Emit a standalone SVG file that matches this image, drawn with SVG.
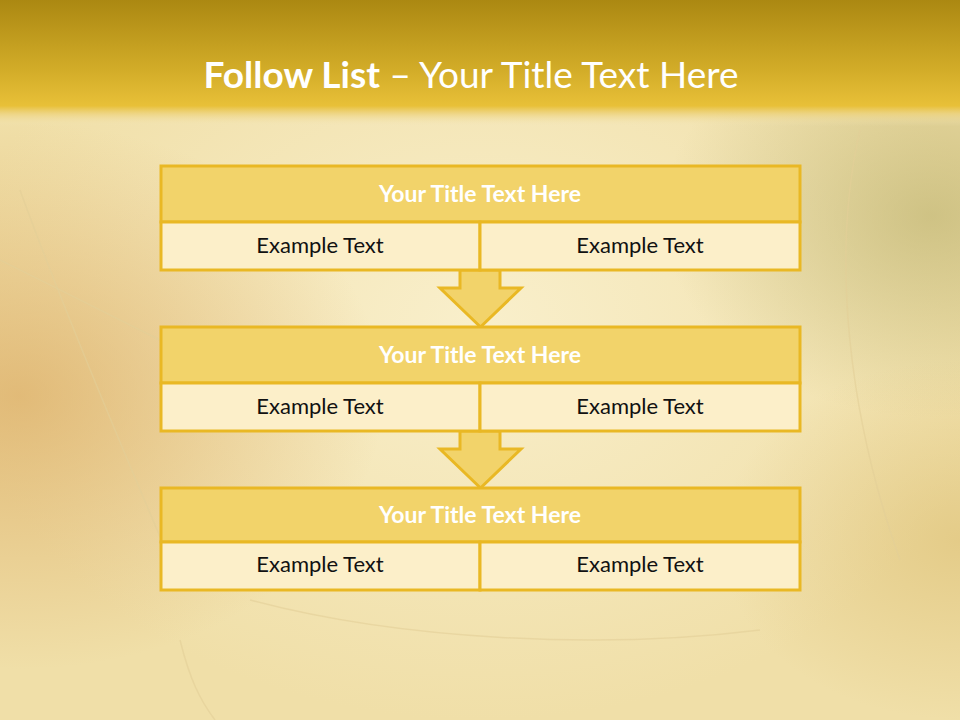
<svg xmlns="http://www.w3.org/2000/svg" width="960" height="720" viewBox="0 0 960 720">
<defs>
<linearGradient id="hdr" x1="0" y1="0" x2="0" y2="1">
<stop offset="0" stop-color="#AB8812"/>
<stop offset="0.55" stop-color="#D2AC28"/>
<stop offset="0.84" stop-color="#E8C038"/>
<stop offset="0.9" stop-color="#EDD27A" stop-opacity="0.85"/>
<stop offset="1" stop-color="#F3E6B8" stop-opacity="0"/>
</linearGradient>
<radialGradient id="leftbrown" cx="0.02" cy="0.55" r="0.38">
<stop offset="0" stop-color="#D9A65C" stop-opacity="0.65"/>
<stop offset="1" stop-color="#D9A65C" stop-opacity="0"/>
</radialGradient>
<radialGradient id="rightgreen" cx="0.97" cy="0.3" r="0.28">
<stop offset="0" stop-color="#B8AE6A" stop-opacity="0.6"/>
<stop offset="1" stop-color="#B8AE6A" stop-opacity="0"/>
</radialGradient>
<radialGradient id="rightlow" cx="1" cy="0.75" r="0.25">
<stop offset="0" stop-color="#D8B868" stop-opacity="0.5"/>
<stop offset="1" stop-color="#D8B868" stop-opacity="0"/>
</radialGradient>
<radialGradient id="center" cx="0.5" cy="0.45" r="0.55">
<stop offset="0" stop-color="#F9EFCB"/>
<stop offset="1" stop-color="#F0DFA8"/>
</radialGradient>
<style>
.tt{fill:#F2D36A;stroke:#E9B824;stroke-width:3}
.cell{fill:#FCEFC9;stroke:#E9B824;stroke-width:3}
.arr{fill:#F2D36A;stroke:#E9B824;stroke-width:3;stroke-linejoin:miter}
.ht{font-family:Lato,"Open Sans",sans-serif;font-weight:bold;font-size:23px;fill:#FFFFFF;text-anchor:middle}
.ex{font-family:Lato,"Open Sans",sans-serif;font-size:22px;fill:#111111;text-anchor:middle}
.vein{fill:none;stroke:#E2CE98;stroke-width:1.5;opacity:0.6}
</style>
</defs>
<rect x="0" y="0" width="960" height="720" fill="url(#center)"/>
<rect x="0" y="0" width="960" height="720" fill="url(#leftbrown)"/>
<rect x="0" y="0" width="960" height="720" fill="url(#rightgreen)"/>
<rect x="0" y="0" width="960" height="720" fill="url(#rightlow)"/>
<g id="veins">
<path class="vein" d="M20 190 C60 300 110 420 170 560"/>
<path class="vein" d="M0 260 C80 300 140 330 200 360"/>
<path class="vein" d="M860 130 C830 260 850 420 900 560"/>
<path class="vein" d="M250 600 C400 640 600 650 760 630"/>
<path class="vein" d="M180 640 C190 680 200 700 215 720"/>
</g>
<rect x="0" y="0" width="960" height="126" fill="url(#hdr)"/>
<text x="471" y="88" text-anchor="middle" font-family="Lato,'Open Sans',sans-serif" font-size="37" fill="#FFFFFF"><tspan font-weight="bold">Follow List</tspan>  – Your Title Text Here</text>
<g id="connectors">
<path class="arr" d="M460 270 L500 270 L500 288 L521 288 L480.5 327 L440 288 L460 288 Z"/>
<path class="arr" d="M460 431 L500 431 L500 449 L521 449 L480.5 488 L440 449 L460 449 Z"/>
</g>
<g id="table1">
<rect class="tt" x="161" y="166" width="639" height="56"/>
<rect class="cell" x="161" y="222" width="319" height="48"/>
<rect class="cell" x="480" y="222" width="320" height="48"/>
<text class="ht" x="480" y="202">Your Title Text Here</text>
<text class="ex" x="320" y="253">Example Text</text>
<text class="ex" x="640" y="253">Example Text</text>
</g>
<g id="table2">
<rect class="tt" x="161" y="327" width="639" height="56"/>
<rect class="cell" x="161" y="383" width="319" height="48"/>
<rect class="cell" x="480" y="383" width="320" height="48"/>
<text class="ht" x="480" y="363">Your Title Text Here</text>
<text class="ex" x="320" y="414">Example Text</text>
<text class="ex" x="640" y="414">Example Text</text>
</g>
<g id="table3">
<rect class="tt" x="161" y="488" width="639" height="54"/>
<rect class="cell" x="161" y="542" width="319" height="48"/>
<rect class="cell" x="480" y="542" width="320" height="48"/>
<text class="ht" x="480" y="523">Your Title Text Here</text>
<text class="ex" x="320" y="572">Example Text</text>
<text class="ex" x="640" y="572">Example Text</text>
</g>
</svg>
